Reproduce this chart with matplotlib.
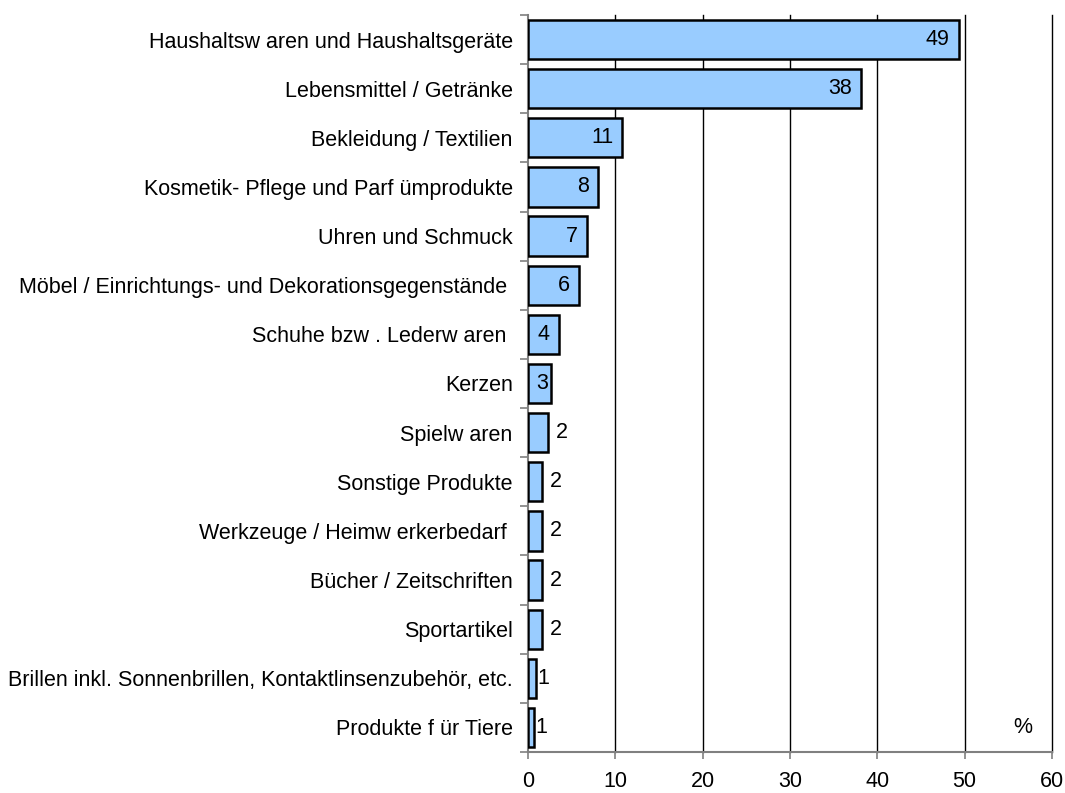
import matplotlib
matplotlib.use("Agg")
import matplotlib.pyplot as plt
import numpy as np

categories = [
    "Haushaltsw aren und Haushaltsgeräte",
    "Lebensmittel / Getränke",
    "Bekleidung / Textilien",
    "Kosmetik- Pflege und Parf ümprodukte",
    "Uhren und Schmuck",
    "Möbel / Einrichtungs- und Dekorationsgegenstände ",
    "Schuhe bzw . Lederw aren ",
    "Kerzen",
    "Spielw aren",
    "Sonstige Produkte",
    "Werkzeuge / Heimw erkerbedarf ",
    "Bücher / Zeitschriften",
    "Sportartikel",
    "Brillen inkl. Sonnenbrillen, Kontaktlinsenzubehör, etc.",
    "Produkte f ür Tiere",
]
values = [49.3, 38.1, 10.8, 8.0, 6.7, 5.8, 3.5, 2.6, 2.3, 1.6, 1.6, 1.6, 1.6, 0.95, 0.72]
labels = ["49", "38", "11", "8", "7", "6", "4", "3", "2", "2", "2", "2", "2", "1", "1"]
xticks = [0, 10, 20, 30, 40, 50, 60]

plt.rcParams['font.family'] = ['Liberation Sans', 'DejaVu Sans']
FS = 15.5

fig = plt.figure(figsize=(10.65, 7.93), dpi=100)
ax = fig.add_axes([528/1065, 1-752/793, (1052-528)/1065, (752-15)/793])

n = len(categories)
y = np.arange(n)
ax.barh(y, values, height=0.8, color="#99CCFF", edgecolor="black", linewidth=1.8, zorder=3)

for yi, v, lab in zip(y, values, labels):
    if v >= 3:
        ax.text(v - 1.0, yi, lab, ha="right", va="center", fontsize=FS, zorder=4)
    elif v >= 2.5:
        ax.text(v - 0.35, yi, lab, ha="right", va="center", fontsize=FS, zorder=4)
    elif v >= 1.2:
        ax.text(v + 0.9, yi, lab, ha="left", va="center", fontsize=FS, zorder=4)
    else:
        ax.text(v + 0.1, yi, lab, ha="left", va="center", fontsize=FS, zorder=4)

ax.set_xlim(0, 60)
ax.set_ylim(n - 0.5, -0.5)
ax.set_xticks(xticks)
ax.set_xticklabels([str(t) for t in xticks], fontsize=FS)
ax.set_yticks(y)
ax.set_yticklabels(categories, fontsize=FS)
ax.tick_params(axis="y", length=0, pad=11)
ax.set_yticks(np.arange(-0.5, n, 1.0), minor=True)
ax.tick_params(axis="y", which="minor", length=6, color="#808080", width=1.2)
ax.tick_params(axis="x", length=5, color="#808080", width=1.2, pad=9)

for x in xticks[1:]:
    ax.axvline(x, color="black", linewidth=1.0, zorder=1, clip_on=False)

for s in ["top", "right"]:
    ax.spines[s].set_visible(False)
for s in ["left", "bottom"]:
    ax.spines[s].set_color("#808080")
    ax.spines[s].set_linewidth(1.5)

ax.text(56.6, 14, "%", ha="center", va="center", fontsize=FS)

fig.savefig("out.png", dpi=100)
